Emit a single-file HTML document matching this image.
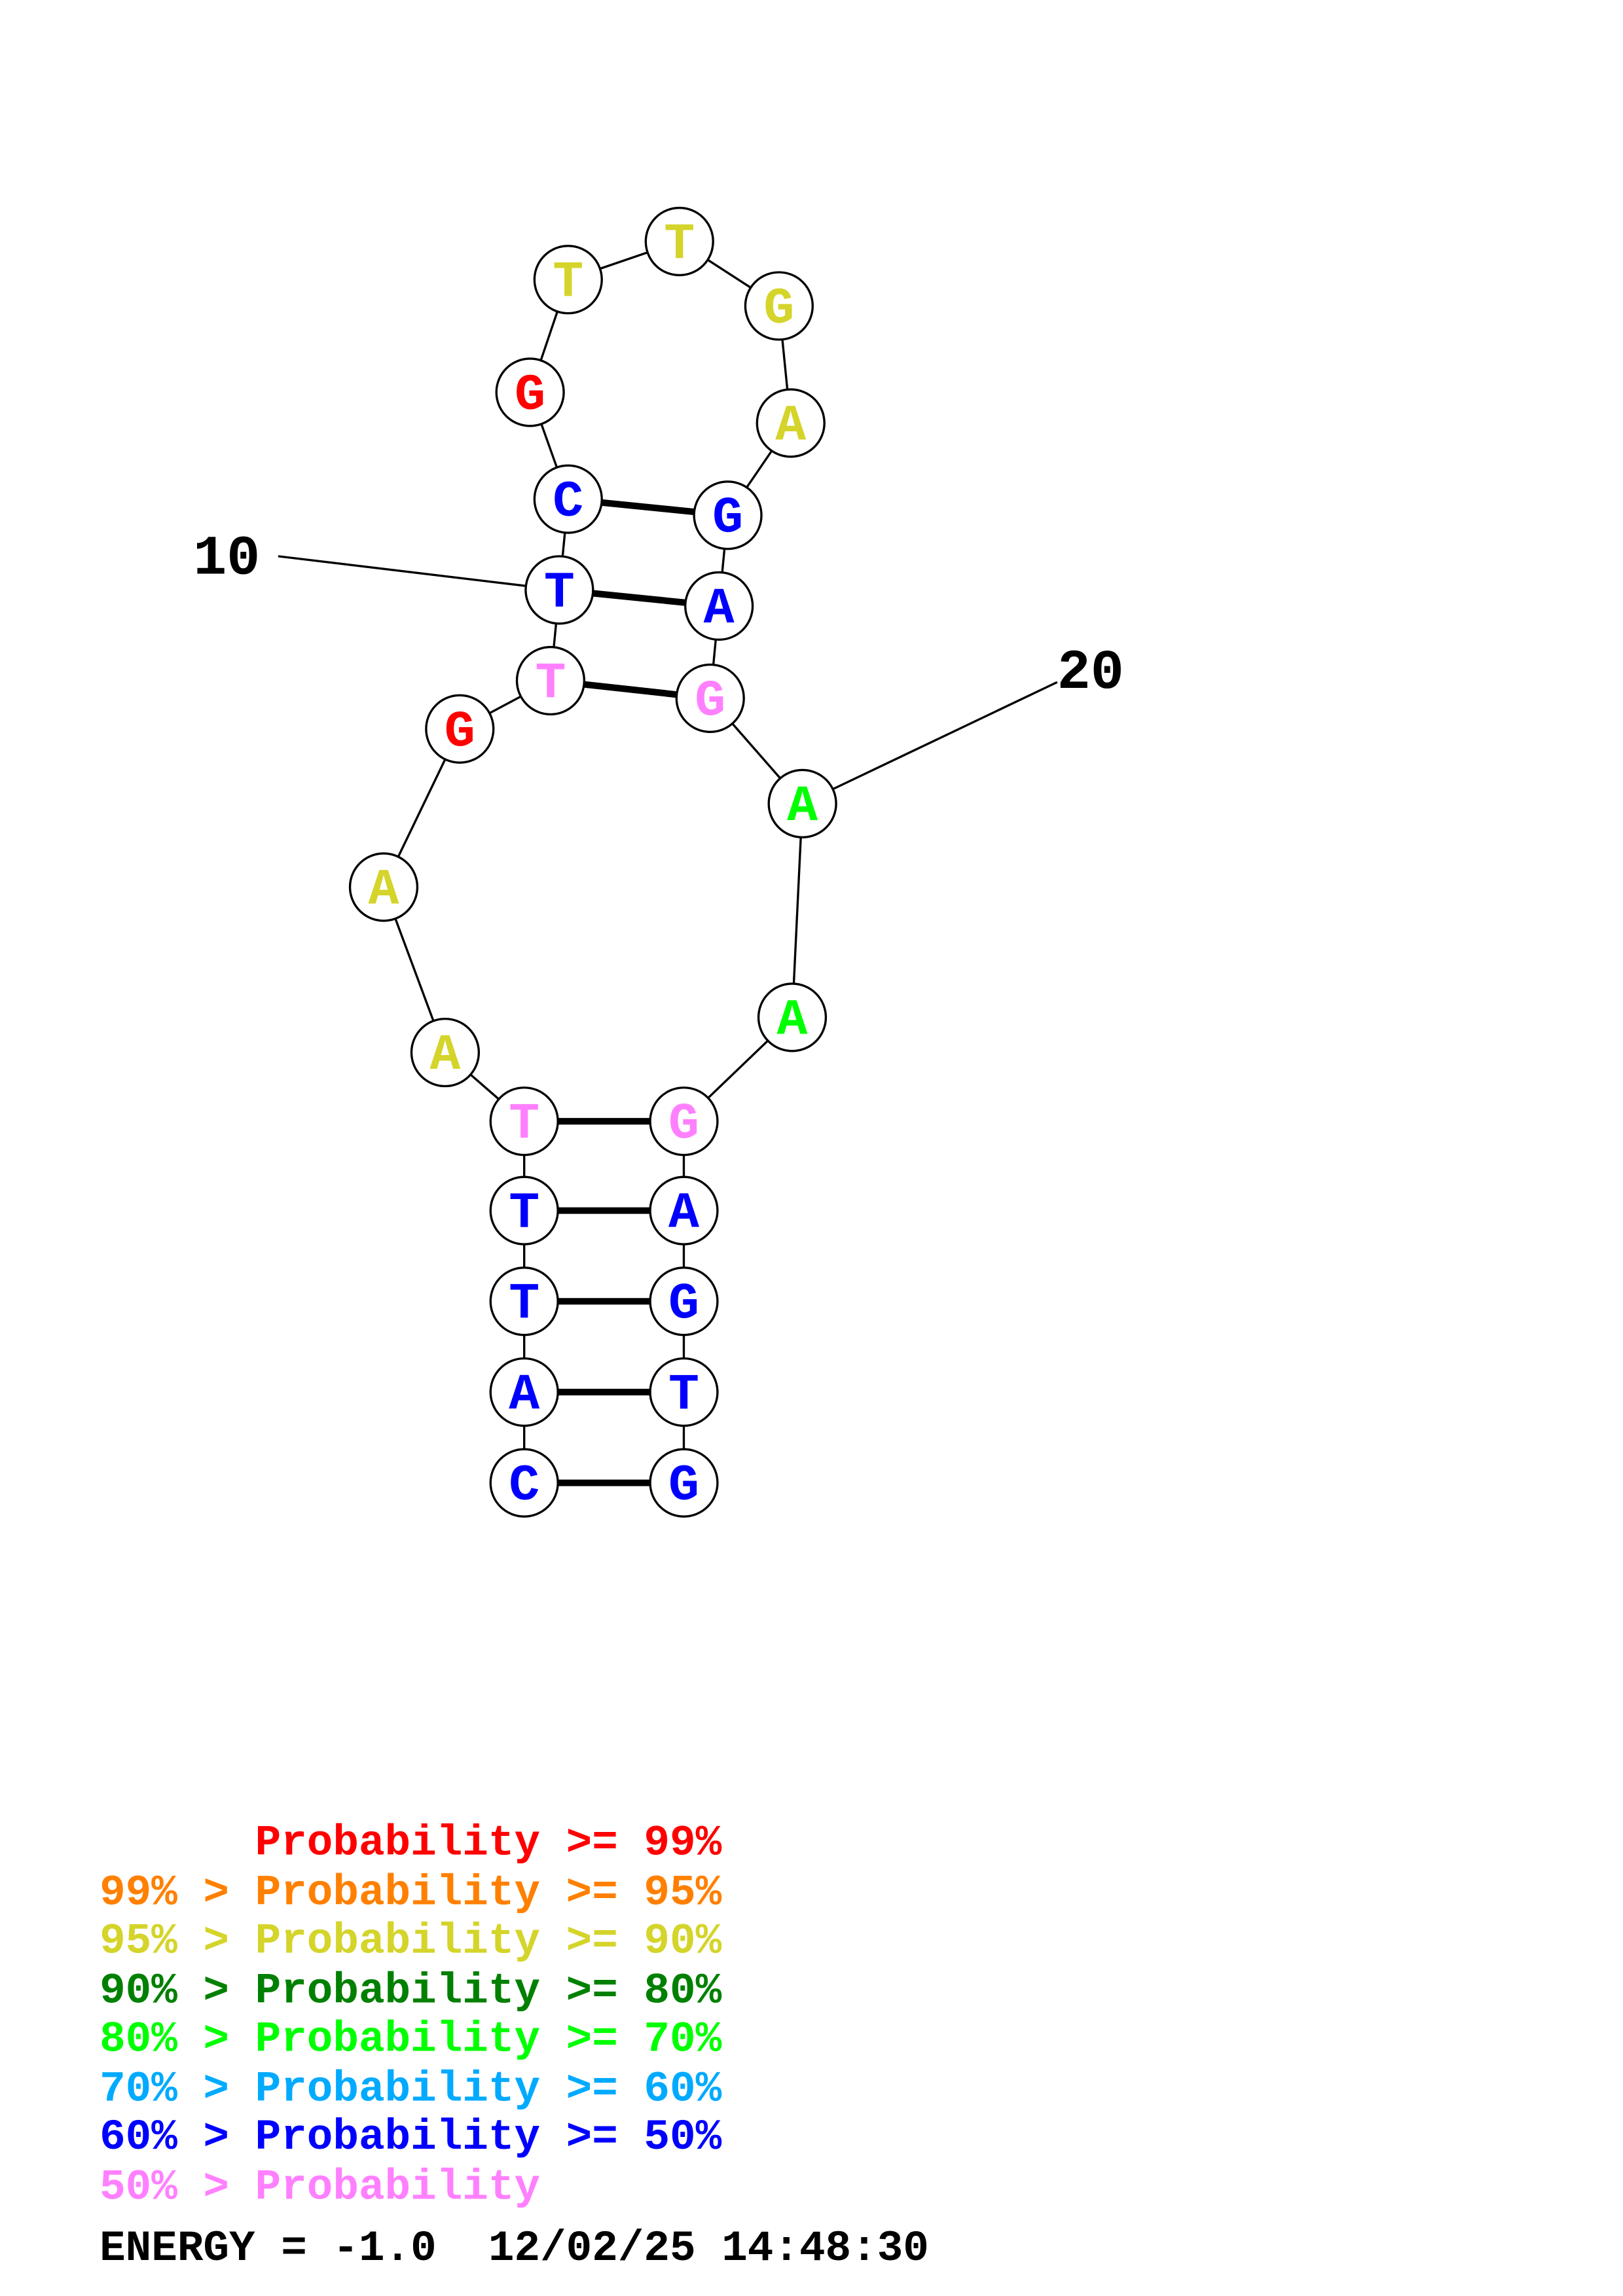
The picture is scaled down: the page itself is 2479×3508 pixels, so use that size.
<!DOCTYPE html>
<html><head><meta charset="utf-8"><style>html,body{margin:0;padding:0;background:#fff}svg{display:block}</style></head>
<body>
<svg xmlns="http://www.w3.org/2000/svg" width="2479" height="3508" viewBox="0 0 1108.4 1568.5" preserveAspectRatio="none">
<rect width="1108.4" height="1568.5" fill="#fff"/>
<g stroke="#000" stroke-width="1.5">
<polyline fill="none" points="358,1013 358,951 358,889 358,827 358,766 304,719 262,606 314,498 376,465 382,403 388,341 362,268 388,191 464,165 532,209 540,289 497,352 491,414 485,477 548,549 541,695 467,766 467,827 467,889 467,951 467,1013"/>
<line x1="190" y1="380" x2="382" y2="403"/>
<line x1="722" y1="466" x2="548" y2="549"/>
</g>
<g stroke="#000" stroke-width="4.5">
<line x1="358" y1="1013" x2="467" y2="1013"/>
<line x1="358" y1="951" x2="467" y2="951"/>
<line x1="358" y1="889" x2="467" y2="889"/>
<line x1="358" y1="827" x2="467" y2="827"/>
<line x1="358" y1="766" x2="467" y2="766"/>
<line x1="376" y1="465" x2="485" y2="477"/>
<line x1="382" y1="403" x2="491" y2="414"/>
<line x1="388" y1="341" x2="497" y2="352"/>
</g>
<g fill="#fff" stroke="#000" stroke-width="1.5">
<circle cx="358" cy="1013" r="23"/><circle cx="358" cy="951" r="23"/><circle cx="358" cy="889" r="23"/><circle cx="358" cy="827" r="23"/><circle cx="358" cy="766" r="23"/><circle cx="304" cy="719" r="23"/><circle cx="262" cy="606" r="23"/><circle cx="314" cy="498" r="23"/><circle cx="376" cy="465" r="23"/><circle cx="382" cy="403" r="23"/><circle cx="388" cy="341" r="23"/><circle cx="362" cy="268" r="23"/><circle cx="388" cy="191" r="23"/><circle cx="464" cy="165" r="23"/><circle cx="532" cy="209" r="23"/><circle cx="540" cy="289" r="23"/><circle cx="497" cy="352" r="23"/><circle cx="491" cy="414" r="23"/><circle cx="485" cy="477" r="23"/><circle cx="548" cy="549" r="23"/><circle cx="541" cy="695" r="23"/><circle cx="467" cy="766" r="23"/><circle cx="467" cy="827" r="23"/><circle cx="467" cy="889" r="23"/><circle cx="467" cy="951" r="23"/><circle cx="467" cy="1013" r="23"/>
</g>
<g font-family="'Liberation Mono',monospace" font-weight="bold" font-size="35" text-anchor="middle" dominant-baseline="central">
<text x="358" y="1015" fill="#0000ff">C</text>
<text x="358" y="953" fill="#0000ff">A</text>
<text x="358" y="891" fill="#0000ff">T</text>
<text x="358" y="829" fill="#0000ff">T</text>
<text x="358" y="768" fill="#ff80ff">T</text>
<text x="304" y="721" fill="#d4d42a">A</text>
<text x="262" y="608" fill="#d4d42a">A</text>
<text x="314" y="500" fill="#ff0000">G</text>
<text x="376" y="467" fill="#ff80ff">T</text>
<text x="382" y="405" fill="#0000ff">T</text>
<text x="388" y="343" fill="#0000ff">C</text>
<text x="362" y="270" fill="#ff0000">G</text>
<text x="388" y="193" fill="#d4d42a">T</text>
<text x="464" y="167" fill="#d4d42a">T</text>
<text x="532" y="211" fill="#d4d42a">G</text>
<text x="540" y="291" fill="#d4d42a">A</text>
<text x="497" y="354" fill="#0000ff">G</text>
<text x="491" y="416" fill="#0000ff">A</text>
<text x="485" y="479" fill="#ff80ff">G</text>
<text x="548" y="551" fill="#00ff00">A</text>
<text x="541" y="697" fill="#00ff00">A</text>
<text x="467" y="768" fill="#ff80ff">G</text>
<text x="467" y="829" fill="#0000ff">A</text>
<text x="467" y="891" fill="#0000ff">G</text>
<text x="467" y="953" fill="#0000ff">T</text>
<text x="467" y="1015" fill="#0000ff">G</text>
</g>
<g font-family="'Liberation Mono',monospace" font-weight="bold" font-size="38" fill="#000">
<text x="132" y="392">10</text>
<text x="722" y="470">20</text>
</g>
<g font-family="'Liberation Mono',monospace" font-weight="bold" font-size="29.5">
<text x="68" y="1267" fill="#ff0000" xml:space="preserve">      Probability &gt;= 99%</text>
<text x="68" y="1301" fill="#ff8000">99% &gt; Probability &gt;= 95%</text>
<text x="68" y="1334" fill="#d4d42a">95% &gt; Probability &gt;= 90%</text>
<text x="68" y="1368" fill="#008000">90% &gt; Probability &gt;= 80%</text>
<text x="68" y="1401" fill="#00ff00">80% &gt; Probability &gt;= 70%</text>
<text x="68" y="1435" fill="#00aaff">70% &gt; Probability &gt;= 60%</text>
<text x="68" y="1468" fill="#0000ff">60% &gt; Probability &gt;= 50%</text>
<text x="68" y="1502" fill="#ff80ff">50% &gt; Probability</text>
<text x="68" y="1544" fill="#000" xml:space="preserve">ENERGY = -1.0  12/02/25 14:48:30</text>
</g>
</svg>
</body></html>
